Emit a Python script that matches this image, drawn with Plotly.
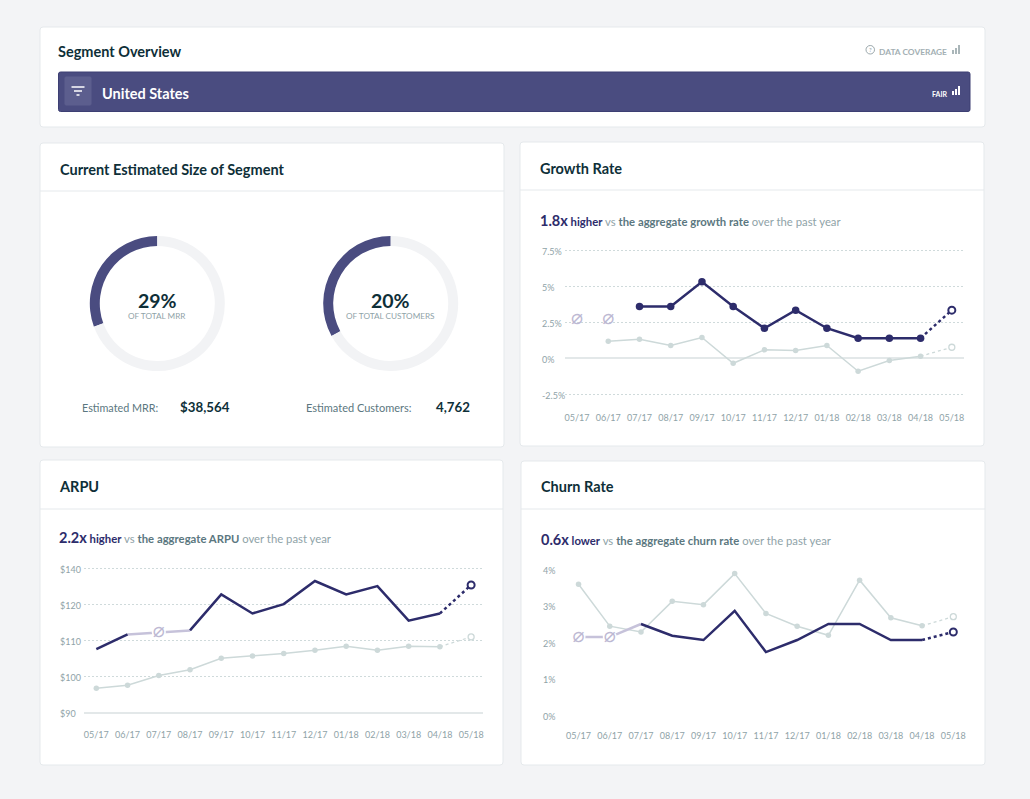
import plotly.graph_objects as go

W, H = 1030, 799
months = ["05/17","06/17","07/17","08/17","09/17","10/17","11/17","12/17","01/18","02/18","03/18","04/18","05/18"]

growth_segment = [None,None,3.59,3.59,5.3,3.59,2.08,3.33,2.08,1.39,1.39,1.39,3.33]
growth_aggregate = [None,1.18,1.32,0.88,1.44,-0.35,0.58,0.53,0.88,-0.9,-0.16,0.14,0.76]
growth_missing = [2.69,2.69]
growth_missing_months = ["05/17","06/17"]
growth_ticks = [-2.5,0,2.5,5,7.5]
growth_labels = ["-2.5%","0%","2.5%","5%","7.5%"]

# The reference's ARPU axis is evenly spaced but labelled $90,$100,$110,$120,$140
arpu_segment = [107.5,111.6,None,112.7,122.7,117.4,120,126.4,122.7,125,115.4,117.4,125.3]
arpu_aggregate = [96.7,97.5,100.2,101.8,105,105.6,106.3,107.2,108.3,107.2,108.3,108.2,110.9]
arpu_faded = [None,111.6,112.2,112.7,None,None,None,None,None,None,None,None,None]
arpu_missing = [112.2]
arpu_missing_months = ["07/17"]
arpu_ticks = [90,100,110,120,130]
arpu_labels = ["$90","$100","$110","$120","$140"]

churn_segment = [None,None,2.48,2.16,2.04,2.84,1.71,2.04,2.48,2.48,2.04,2.04,2.26]
churn_aggregate = [3.57,2.42,2.26,3.1,3.01,3.86,2.77,2.42,2.17,3.68,2.65,2.43,2.68]
churn_faded = [2.12,2.12,2.48,None,None,None,None,None,None,None,None,None,None]
churn_missing = [2.12,2.12]
churn_missing_months = ["05/17","06/17"]
churn_ticks = [0,1,2,3,4]
churn_labels = ["0%","1%","2%","3%","4%"]

donut_labels = ["Segment","Rest"]
mrr_share = [30.6,69.4]
customers_share = [33,67]

FONT = "Lato"
NAVY = "#2d2c6b"
INDIGO = "#4a4c80"
FADED = "#c6c2da"
GLYPH = "#bdb9d3"
AGG = "#cdd9d9"
MUTED = "#8fa3a8"
DARK = "#0e2f38"
TEAL = "#5b7780"
BORDER = "#e5e9ec"
GRID = "#cfdadb"

def px(x): return x / W
def py(y): return 1 - y / H

shapes, annotations, traces = [], [], []

def rect(x0, y0, x1, y1, fill, line=None, r=3):
    path = (f"M{px(x0+r)},{py(y0)} L{px(x1-r)},{py(y0)} Q{px(x1)},{py(y0)} {px(x1)},{py(y0+r)} "
            f"L{px(x1)},{py(y1-r)} Q{px(x1)},{py(y1)} {px(x1-r)},{py(y1)} L{px(x0+r)},{py(y1)} "
            f"Q{px(x0)},{py(y1)} {px(x0)},{py(y1-r)} L{px(x0)},{py(y0+r)} Q{px(x0)},{py(y0)} {px(x0+r)},{py(y0)} Z")
    shapes.append(dict(type="path", xref="paper", yref="paper", path=path, fillcolor=fill,
                       line=dict(color=line or fill, width=1), layer="below"))

def hline(x0, x1, y, color=BORDER, width=1):
    shapes.append(dict(type="line", xref="paper", yref="paper", x0=px(x0), x1=px(x1), y0=py(y), y1=py(y),
                       line=dict(color=color, width=width), layer="below"))

def vbar(x, y0, y1, color, width=2):
    shapes.append(dict(type="line", xref="paper", yref="paper", x0=px(x), x1=px(x), y0=py(y0), y1=py(y1),
                       line=dict(color=color, width=width)))

def text(x, y, s, size=11, color=DARK, anchor="left"):
    annotations.append(dict(xref="paper", yref="paper", x=px(x), y=py(y), text=s, showarrow=False,
                            xanchor=anchor, yanchor="middle", align=anchor, borderpad=0,
                            font=dict(family=FONT, size=size, color=color)))

# cards
rect(40, 27, 985, 127, "white", BORDER)
rect(40, 143, 504, 447, "white", BORDER)
rect(520, 142, 984, 446, "white", BORDER)
rect(40, 460, 503, 765, "white", BORDER)
rect(521, 461, 985, 765, "white", BORDER)
hline(40, 504, 191); hline(520, 984, 190); hline(40, 503, 509); hline(521, 985, 509)

# banner
rect(58.5, 72, 970, 111.5, INDIGO, "#3d3f73", r=2)
rect(65, 77, 91, 105, "#5c5e8e", r=1)
hline(71.5, 84.5, 87, "white", 1.5); hline(74, 82, 91, "white", 1.5); hline(76.5, 79.5, 95, "white", 1.5)
for x, top in zip([953, 956, 959], [91, 89, 86]):
    vbar(x, 95, top, "white")
for x, top, c in zip([953, 956, 959], [50, 48, 45], ["#aab6b9"]*3):
    vbar(x, 54, top, c)
shapes.append(dict(type="circle", xref="paper", yref="paper", x0=px(866), x1=px(874.5), y0=py(45.5), y1=py(54),
                   line=dict(color="#9aa7ab", width=1)))
text(870.2, 49.8, "?", 6, "#8d9b9f", "center")

text(57, 51.5, "<b>Segment Overview</b>", 14.5)
text(878, 52.5, "<b>DATA COVERAGE</b>", 8.4, "#a3afb3")
text(101, 93.5, "<b>United States</b>", 14.5, "white")
text(931, 94, "<b>FAIR</b>", 7, "white")
text(59, 170, "<b>Current Estimated Size of Segment</b>", 14.5)
text(539, 168, "<b>Growth Rate</b>", 14.5)
text(58, 486, "<b>ARPU</b>", 14.5)
text(540, 486.5, "<b>Churn Rate</b>", 14.5)

def subtitle(x, y, big, word, middle, rest=" over the past year"):
    s = (f'<b><span style="font-size:14.5px;color:{NAVY}">{big}</span>'
         f'<span style="color:{NAVY}"> {word}</span></b>'
         f'<span style="color:{MUTED}"> vs </span><b><span style="color:{TEAL}">{middle}</span></b>'
         f'<span style="color:{MUTED}">{rest}</span>')
    text(x, y, s, 11.3)

subtitle(539, 220, "1.8x", "higher", "the aggregate growth rate")
subtitle(58, 537.5, "2.2x", "higher", "the aggregate ARPU")
subtitle(540, 539, "0.6x", "lower", "the aggregate churn rate")

# donuts
def donut(cx, cy, values):
    R = 67.5
    traces.append(go.Pie(labels=donut_labels, values=values, hole=0.852, sort=False, direction="clockwise",
                         rotation=360 * values[1] / 100, textinfo="none", hoverinfo="skip", showlegend=False,
                         marker=dict(colors=[INDIGO, "#f2f3f5"], line=dict(width=0)),
                         domain=dict(x=[px(cx-R), px(cx+R)], y=[py(cy+R), py(cy-R)])))

donut(157.3, 303.5, mrr_share)
donut(390.7, 303.5, customers_share)
text(157.3, 300, "<b>29%</b>", 19.5, DARK, "center")
text(157.3, 316, "OF TOTAL MRR", 8.2, MUTED, "center")
text(390.7, 300, "<b>20%</b>", 19.5, DARK, "center")
text(390.7, 316, "OF TOTAL CUSTOMERS", 8.2, MUTED, "center")
text(81, 407, "Estimated MRR:", 10.8, TEAL)
text(178.5, 406.5, "<b>$38,564</b>", 13.3)
text(305, 407, "Estimated Customers:", 11, TEAL)
text(434.5, 406.5, "<b>4,762</b>", 13.3)

layout_axes = {}

def chart(n, left, right, top, bottom, yrange, ticks, labels, label_x, segment, aggregate, missing, missing_months,
          faded=None, seg_markers=False, grid=True, solid_base=False, zero=False, mask=True, standoff=13):
    xa, ya = f"x{n}", f"y{n}"
    layout_axes[f"xaxis{n}"] = dict(domain=[px(left), px(right)], anchor=ya, type="category",
        categoryorder="array", categoryarray=months, range=[-0.385, 12.39], tickmode="array",
        tickvals=months, ticktext=months, showgrid=False, zeroline=False, fixedrange=True,
        showline=solid_base, linecolor="#e3e8e9", linewidth=2, ticks="", ticklabelstandoff=standoff,
        tickfont=dict(family=FONT, size=9, color=MUTED))
    layout_axes[f"yaxis{n}"] = dict(domain=[py(bottom), py(top)], anchor=xa, range=yrange, tickmode="array",
        tickvals=ticks, showticklabels=False, showgrid=grid, gridcolor=GRID, griddash="2px,2px", gridwidth=1,
        zeroline=zero, zerolinecolor="#e3e8e9", zerolinewidth=2, showline=False, fixedrange=True)
    for t, l in zip(ticks, labels):
        annotations.append(dict(xref="paper", yref=ya, x=px(label_x), y=t, yshift=-1.5, text=l, showarrow=False,
                                xanchor="left", yanchor="middle", font=dict(family=FONT, size=9, color=MUTED)))
    common = dict(xaxis=xa, yaxis=ya, hoverinfo="skip", showlegend=False, cliponaxis=False)
    # aggregate
    traces.append(go.Scatter(x=months[-2:], y=aggregate[-2:], mode="lines", line=dict(color=AGG, width=1.3, dash="dot"), **common))
    traces.append(go.Scatter(x=months[:-1], y=aggregate[:-1], mode="lines+markers", line=dict(color=AGG, width=1.5),
                             marker=dict(size=5.5, color=AGG), **common))
    traces.append(go.Scatter(x=months[-1:], y=aggregate[-1:], mode="markers",
                             marker=dict(size=6, color="white", line=dict(color=AGG, width=1.3)), **common))
    # faded link across months with no segment value
    if faded:
        traces.append(go.Scatter(x=months, y=faded, mode="lines", line=dict(color=FADED, width=2.5), **common))
    # missing value glyphs
    traces.append(go.Scatter(x=missing_months, y=missing, mode="markers+text", text=["\u2300"]*len(missing),
                             textposition="middle center", textfont=dict(family="DejaVu Sans", size=20, color=GLYPH),
                             marker=dict(size=14, color="white", opacity=1 if mask else 0), **common))
    # segment
    traces.append(go.Scatter(x=months[-2:], y=segment[-2:], mode="lines", line=dict(color=NAVY, width=2.5, dash="dot"), **common))
    traces.append(go.Scatter(x=months[:-1], y=segment[:-1], mode="lines+markers" if seg_markers else "lines",
                             line=dict(color=NAVY, width=2.5), marker=dict(size=7.5, color=NAVY), connectgaps=False, **common))
    traces.append(go.Scatter(x=months[-1:], y=segment[-1:], mode="markers",
                             marker=dict(size=7, color="white", line=dict(color=NAVY, width=2)), **common))

# y ranges run a little past the outer ticks so that the outer gridlines are drawn
chart(2, 565, 964, 248.56, 395.74, [-2.6, 7.6], growth_ticks, growth_labels, 539.5, growth_segment, growth_aggregate,
      growth_missing, growth_missing_months, seg_markers=True, zero=True, mask=False, standoff=15)
chart(3, 84.3, 483.3, 566.2, 712.3, [90, 130.5], arpu_ticks, arpu_labels, 58, arpu_segment, arpu_aggregate,
      arpu_missing, arpu_missing_months, faded=arpu_faded, solid_base=True)
chart(4, 566.5, 965.5, 568.5, 714.5, [0, 4], churn_ticks, churn_labels, 541, churn_segment, churn_aggregate,
      churn_missing, churn_missing_months, faded=churn_faded, grid=False, standoff=14)

fig = go.Figure(traces)
fig.update_layout(width=W, height=H, margin=dict(l=0, r=0, t=0, b=0), paper_bgcolor="#f3f4f6", plot_bgcolor="rgba(0,0,0,0)",
                  showlegend=False, shapes=shapes, annotations=annotations, font=dict(family=FONT), **layout_axes)
fig.write_html("out.html", config={"displayModeBar": False},
               post_script="document.body.style.margin='0';document.body.style.overflow='hidden';")
